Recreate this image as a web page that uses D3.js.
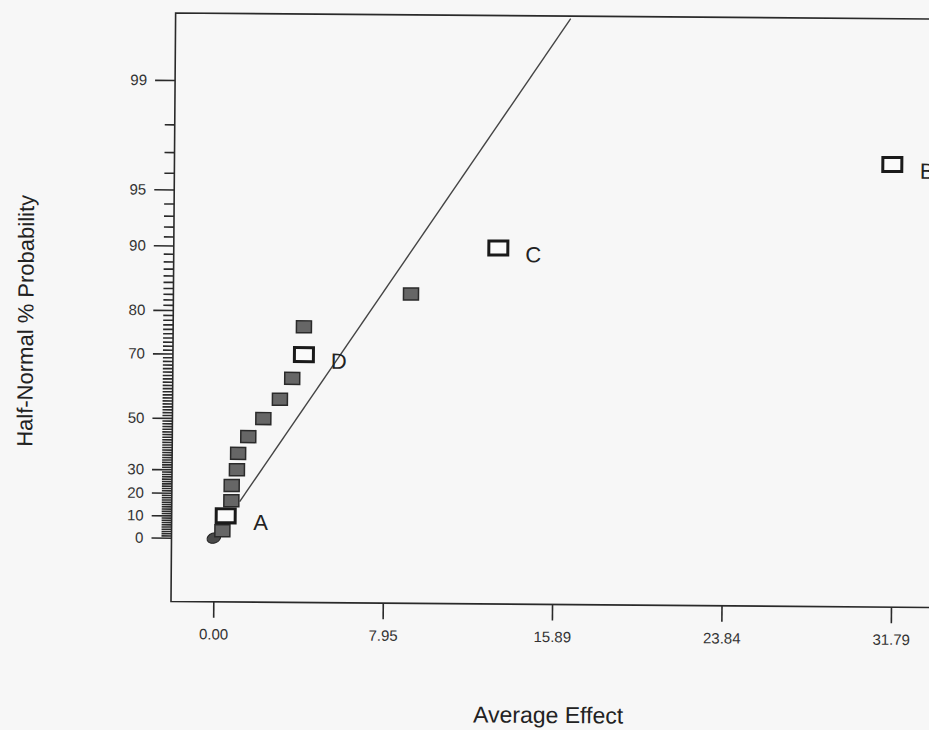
<!DOCTYPE html>
<html>
<head>
<meta charset="utf-8">
<script src="https://cdn.jsdelivr.net/npm/d3@7"></script>
<style>
  body { margin: 0; background: #f7f7f7; overflow: hidden; }
  svg { display: block; font-family: "Liberation Sans", Arial, sans-serif; }
</style>
</head>
<body>
<script>
// effects sorted by size, with their half-normal probability (%)
const effects = [0.40, 0.55, 0.81, 0.82, 1.06, 1.11, 1.58, 2.28, 3.05, 3.62, 4.16, 4.15, 9.16, 13.24, 31.69];
const probs = [3.3, 10, 16.7, 23.3, 30, 36.7, 43.3, 50, 56.7, 63.3, 70, 76.7, 83.3, 90, 96.7];
const labels = ["", "A", "", "", "", "", "", "", "", "", "D", "", "", "C", "B"];

// dark blob sitting at the origin
const originEffect = [0];
const originProb = [0];

// reference line
const lineEffect = [1.2, 16.55];
const lineProb = [16.3, 99.67];

const xTicks = [0, 7.95, 15.89, 23.84, 31.79];
const yMajor = [0, 10, 20, 30, 50, 70, 80, 90, 95, 99];
const yMinor = d3.range(0, 99).filter(p => !yMajor.includes(p));

// inverse normal cdf (Acklam)
function probit(p) {
  const a = [-39.69683028665376, 220.9460984245205, -275.9285104469687, 138.3577518672690, -30.66479806614716, 2.506628277459239];
  const b = [-54.47609879822406, 161.5858368580409, -155.6989798598866, 66.80131188771972, -13.28068155288572];
  const c = [-0.007784894002430293, -0.3223964580411365, -2.400758277161838, -2.549732539343734, 4.374664141464968, 2.938163982698783];
  const d = [0.007784695709041462, 0.3224671290700398, 2.445134137142996, 3.754408661907416];
  const pLow = 0.02425;
  if (p < pLow) {
    const q = Math.sqrt(-2 * Math.log(p));
    return (((((c[0] * q + c[1]) * q + c[2]) * q + c[3]) * q + c[4]) * q + c[5]) / ((((d[0] * q + d[1]) * q + d[2]) * q + d[3]) * q + 1);
  }
  if (p <= 1 - pLow) {
    const q = p - 0.5, r = q * q;
    return (((((a[0] * r + a[1]) * r + a[2]) * r + a[3]) * r + a[4]) * r + a[5]) * q / (((((b[0] * r + b[1]) * r + b[2]) * r + b[3]) * r + b[4]) * r + 1);
  }
  const q = Math.sqrt(-2 * Math.log(1 - p));
  return -(((((c[0] * q + c[1]) * q + c[2]) * q + c[3]) * q + c[4]) * q + c[5]) / ((((d[0] * q + d[1]) * q + d[2]) * q + d[3]) * q + 1);
}
const halfNormal = pct => probit(0.5 + pct / 200);

const width = 929, height = 730;
const frameLeft = 171, frameTop = 13, frameBottom = 601.5, frameRight = 1100;

const x = d3.scaleLinear().domain([0, 31.79]).range([213.3, 891]);
const yz = d3.scaleLinear().domain([0, halfNormal(99)]).range([537.7, 80]);
const y = pct => yz(halfNormal(pct));

const svg = d3.select("body")
  .append("svg")
  .attr("width", width)
  .attr("height", height);

// the scan is a little tilted
const g = svg.append("g")
  .attr("transform", `rotate(0.45, ${frameLeft}, ${frameBottom})`);

const ink = "#2a2a2a";

// frame (right side is cut off)
g.append("path")
  .attr("d", `M${frameRight},${frameTop}H${frameLeft}V${frameBottom}H${frameRight}`)
  .attr("fill", "none")
  .attr("stroke", ink)
  .attr("stroke-width", 1.6);

// x axis
const xAxis = g.append("g")
  .attr("transform", `translate(0,${frameBottom})`)
  .call(d3.axisBottom(x).tickValues(xTicks).tickFormat(d3.format(".2f")).tickSize(16).tickSizeOuter(0).tickPadding(11));
xAxis.select(".domain").remove();
xAxis.selectAll("line").attr("stroke", ink).attr("stroke-width", 1.6);
xAxis.selectAll("text").attr("font-size", 15).attr("fill", "#333").attr("font-family", null);

// y axis, minor ticks then major ticks
const yMinorAxis = g.append("g")
  .attr("transform", `translate(${frameLeft},0)`)
  .call(d3.axisLeft(yz).tickValues(yMinor.map(halfNormal)).tickFormat("").tickSize(10).tickSizeOuter(0));
yMinorAxis.select(".domain").remove();
yMinorAxis.selectAll("line").attr("stroke", ink).attr("stroke-width", 1.6);

const yAxis = g.append("g")
  .attr("transform", `translate(${frameLeft},0)`)
  .call(d3.axisLeft(yz).tickValues(yMajor.map(halfNormal)).tickFormat((d, i) => yMajor[i]).tickSize(20).tickSizeOuter(0).tickPadding(8));
yAxis.select(".domain").remove();
yAxis.selectAll("line").attr("stroke", ink).attr("stroke-width", 1.6);
yAxis.selectAll("text").attr("font-size", 15).attr("fill", "#333").attr("font-family", null);

// reference line
g.append("line")
  .attr("x1", x(lineEffect[0]))
  .attr("y1", y(lineProb[0]))
  .attr("x2", x(lineEffect[1]))
  .attr("y2", y(lineProb[1]))
  .attr("stroke", "#444")
  .attr("stroke-width", 1.4);

// blob at origin
g.selectAll("ellipse")
  .data(originEffect)
  .enter()
  .append("ellipse")
  .attr("cx", d => x(d))
  .attr("cy", (d, i) => y(originProb[i]))
  .attr("rx", 7)
  .attr("ry", 5)
  .attr("transform", (d, i) => `rotate(-20, ${x(d)}, ${y(originProb[i])})`)
  .attr("fill", "#4a4a4a")
  .attr("stroke", "#222");

const points = effects.map((e, i) => ({ effect: e, prob: probs[i], label: labels[i] }));

// error effects: small grey squares
g.selectAll("rect.err")
  .data(points.filter(d => d.label === ""))
  .enter()
  .append("rect")
  .attr("class", "err")
  .attr("x", d => x(d.effect) - 7.5)
  .attr("y", d => y(d.prob) - 6)
  .attr("width", 15)
  .attr("height", 12)
  .attr("fill", "#666")
  .attr("stroke", "#2a2a2a")
  .attr("stroke-width", 1.5);

// chosen effects: open squares
const chosen = points.filter(d => d.label !== "");
g.selectAll("rect.sel")
  .data(chosen)
  .enter()
  .append("rect")
  .attr("class", "sel")
  .attr("x", d => x(d.effect) - 9.5)
  .attr("y", d => y(d.prob) - 7)
  .attr("width", 19)
  .attr("height", 14)
  .attr("fill", "#fafafa")
  .attr("stroke", "#1a1a1a")
  .attr("stroke-width", 3);

g.selectAll("text.lab")
  .data(chosen)
  .enter()
  .append("text")
  .attr("class", "lab")
  .attr("x", d => x(d.effect) + 35)
  .attr("y", d => y(d.prob) + 14)
  .attr("text-anchor", "middle")
  .attr("font-size", 22)
  .attr("fill", "#222")
  .text(d => d.label);

// axis titles
g.append("text")
  .attr("x", 549)
  .attr("y", 720)
  .attr("text-anchor", "middle")
  .attr("font-size", 23)
  .attr("fill", "#222")
  .text("Average Effect");

g.append("text")
  .attr("transform", "translate(31,322) rotate(-90)")
  .attr("text-anchor", "middle")
  .attr("font-size", 22)
  .attr("fill", "#222")
  .text("Half-Normal % Probability");
</script>
</body>
</html>
